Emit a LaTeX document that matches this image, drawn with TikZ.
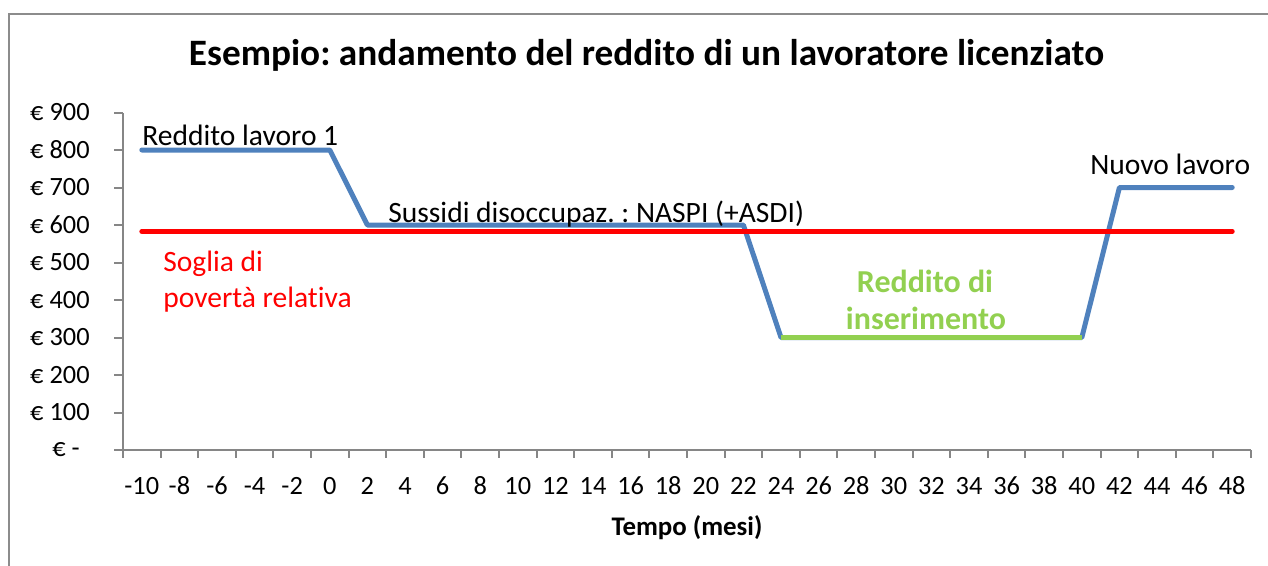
\documentclass[tikz,border=0pt]{standalone}
\usepackage{fontspec}
\setmainfont{Carlito}[Ligatures=NoCommon]
\usetikzlibrary{positioning}
\definecolor{serieblu}{HTML}{4F81BD}
\definecolor{seriever}{HTML}{92D050}
\definecolor{cornice}{HTML}{8C8C8C}
\definecolor{grigioasse}{HTML}{868686}

\begin{document}
\frenchspacing
\begin{tikzpicture}[x=0.2mm,y=0.2mm,
		asse/.style={draw=grigioasse, line width=0.4mm},
		serie/.style={line width=1mm, line cap=round, line join=round},
		tacca/.style={font=\fontsize{15}{17}\selectfont, inner sep=0pt},
		etich/.style={font=\fontsize{16.8}{19}\selectfont, inner sep=0pt},
		verde/.style={etich, anchor=base, text=seriever, font=\bfseries\fontsize{18.2}{21}\selectfont}]
	\useasboundingbox (0,0) rectangle (1268,565);
	\draw[draw=cornice, line width=0.4mm] (8.5,-10) -- (8.5,550.5) -- (1280,550.5);
	
	\node[font=\bfseries\fontsize{21.2}{24}\selectfont, anchor=base, inner sep=0pt] (titolo) at (646.5,499) {Esempio: andamento del reddito di un lavoratore licenziato};
	
	\begin{scope}[shift={(123,115)}, x=7.52mm, y=0.075mm]
		% assi e tacche
		\draw[asse] (0,0) -- (0,900);
		\draw[asse] (-1.8mm,0) -- (30,0);
		\foreach \k in {0,...,30}
			\draw[asse] (\k,0) -- ++(0,-1.6mm);
		\foreach \v in {100,200,...,900}
			\draw[asse] (0,\v) -- ++(-1.8mm,0);
		
		\foreach \v in {100,200,...,900}
			\node[tacca, anchor=east] (y\v) at ([xshift=-6.6mm]0,\v) {€ \v};
		\node[tacca, anchor=east] (y0) at ([xshift=-8.6mm]0,0) {€ -};
		
		\foreach \t [count=\k from 0] in {-10,-8,...,48}
			\node[tacca] (x\k) at (\k+0.5,-96) {\t};
		
		% serie
		\draw[serie, serieblu] (0.5,800) -- (5.5,800) -- (6.5,600) -- (16.5,600) -- (17.5,300) -- (25.5,300) -- (26.5,700) -- (29.5,700);
		\draw[serie, seriever, line cap=butt] (17.5,300) -- (25.5,300);
		\draw[serie, red] (0.5,583) -- (29.5,583);
	\end{scope}
	
	\node[etich, anchor=base west] (lavoro1) at (142,419) {Reddito lavoro 1};
	\node[etich, anchor=base west] (sussidi) at (388,342) {Sussidi disoccupaz. : NASPI (+ASDI)};
	\node[etich, anchor=base west] (nuovo) at (1090,390) {Nuovo lavoro};
	\node[etich, anchor=base west, text=red] (soglia1) at (163,293) {Soglia di};
	\node[etich, anchor=base west, text=red] (soglia2) at (163,257) {povertà relativa};
	\node[verde] (rdi1) at (925,272) {Reddito di};
	\node[verde] (rdi2) at (926,235) {inserimento};
	
	\node[font=\bfseries\fontsize{15.3}{18}\selectfont, anchor=base, inner sep=0pt] (tempo) at (687,30) {Tempo (mesi)};
\end{tikzpicture}
\end{document}
